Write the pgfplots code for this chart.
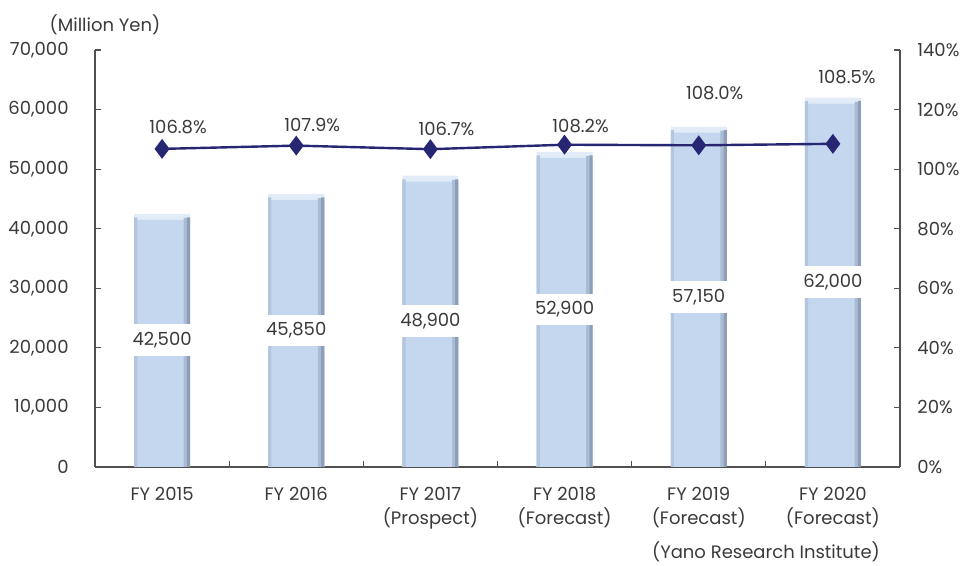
\documentclass[border=0pt]{standalone}
\usepackage{fontspec}
\setmainfont{Poppins}
\usepackage{pgfplots}
\pgfplotsset{compat=1.18}
\usepackage{pgfplotstable}

\definecolor{barmid}{HTML}{C4D7EF}
\definecolor{bartop}{HTML}{E2ECF8}
\definecolor{baredge}{HTML}{8C9FB7}
\definecolor{baredge2}{HTML}{A9BCD4}
\definecolor{barleft}{HTML}{B3C6DE}
\definecolor{linecol}{HTML}{262673}
\definecolor{txt}{HTML}{3A3A3A}
\definecolor{axcol}{HTML}{505050}

% x, sales (million yen), growth (%), label offsets for the growth labels
\pgfplotstableread{
x sales growth dx dy
0 42500 106.8 8 11
1 45850 107.9 8 10.5
2 48900 106.7 8 10
3 52900 108.2 8 9.5
4 57150 108.0 8 26
5 62000 108.5 7 33.5
}\data

\begin{document}
\fontsize{9}{12}\selectfont
\begin{tikzpicture}[text=txt]
\path[use as bounding box] (-47.5pt,-49.5pt) rectangle (436pt,233.5pt);

\pgfplotsset{
  common/.style={
    scale only axis, width=402.5pt, height=208.5pt,
    xmin=-0.5, xmax=5.5,
    tick align=inside, major tick length=3pt,
    axis line style={axcol, line width=0.6pt},
    tick style={axcol, line width=0.6pt},
    /pgf/number format/assume math mode=true,
    /pgf/number format/1000 sep={,},
    ticklabel style={font=\fontsize{9}{12}\selectfont, text=txt},
  },
  barpart/.style={ybar, draw=none, bar width=#1},
}

\begin{axis}[common,
  axis y line*=left, axis x line*=bottom,
  ymin=0, ymax=70000, ytick={0,10000,...,70000},
  scaled y ticks=false,
  yticklabel style={inner sep=0pt, xshift=-13pt},
  xtick={0.5,1.5,...,4.5}, xticklabels={},
]
% bars: light top bevel, body, edges
\addplot[barpart=28pt, bar shift=0pt, fill=bartop] table[x=x, y=sales] {\data};
\addplot[barpart=28pt, bar shift=0pt, fill=barmid] table[x=x, y expr=\thisrow{sales}-1000] {\data};
\addplot[barpart=1.6pt, bar shift=-13.2pt, fill=barleft] table[x=x, y expr=\thisrow{sales}-600] {\data};
\addplot[barpart=1.6pt, bar shift=11.6pt, fill=baredge2] table[x=x, y expr=\thisrow{sales}-700] {\data};
\addplot[barpart=1.6pt, bar shift=13.2pt, fill=baredge] table[x=x, y expr=\thisrow{sales}-600] {\data};
% value labels in the middle of each bar
\addplot[draw=none, mark=none,
  nodes near coords={\pgfmathprintnumber[assume math mode=true,1000 sep={,}]{\pgfplotspointmeta}},
  every node near coord/.append style={anchor=center, fill=white, inner xsep=1.5pt, inner ysep=4pt, text=txt, font=\fontsize{9}{12}\selectfont},
  point meta=explicit]
  table[x=x, y expr=\thisrow{sales}/2, meta=sales] {\data};
\end{axis}

\begin{axis}[common,
  axis y line*=right, axis x line*=bottom,
  x axis line style={draw=none},
  xtick={0,...,5}, xtick style={draw=none},
  xticklabels={{FY 2015}, {FY 2016}, {FY 2017\\(Prospect)}, {FY 2018\\(Forecast)}, {FY 2019\\(Forecast)}, {FY 2020\\(Forecast)}},
  xticklabel style={align=center, anchor=north, inner sep=0pt, yshift=-10pt},
  ymin=0, ymax=140, ytick={0,20,...,140},
  yticklabel={\pgfmathprintnumber{\tick}\%},
  yticklabel style={inner sep=0pt, xshift=8.5pt, anchor=west},
]
\addplot[linecol, line width=1.2pt, mark=diamond*, mark size=4pt,
  mark options={fill=linecol},
  visualization depends on={\thisrow{dx} \as \dx},
  visualization depends on={\thisrow{dy} \as \dy},
  nodes near coords={\pgfmathprintnumber[fixed, fixed zerofill, precision=1, assume math mode=true]{\pgfplotspointmeta}\%},
  every node near coord/.append style={anchor=center, xshift=\dx pt, yshift=\dy pt, text=txt, font=\fontsize{9}{12}\selectfont},
  point meta=explicit]
  table[x=x, y=growth, meta=growth] {\data};
\end{axis}

\node[anchor=center] at (5pt,221pt) {(Million Yen)};
\node[anchor=center] at (335.5pt,-42.5pt) {(Yano Research Institute)};
\end{tikzpicture}
\end{document}
